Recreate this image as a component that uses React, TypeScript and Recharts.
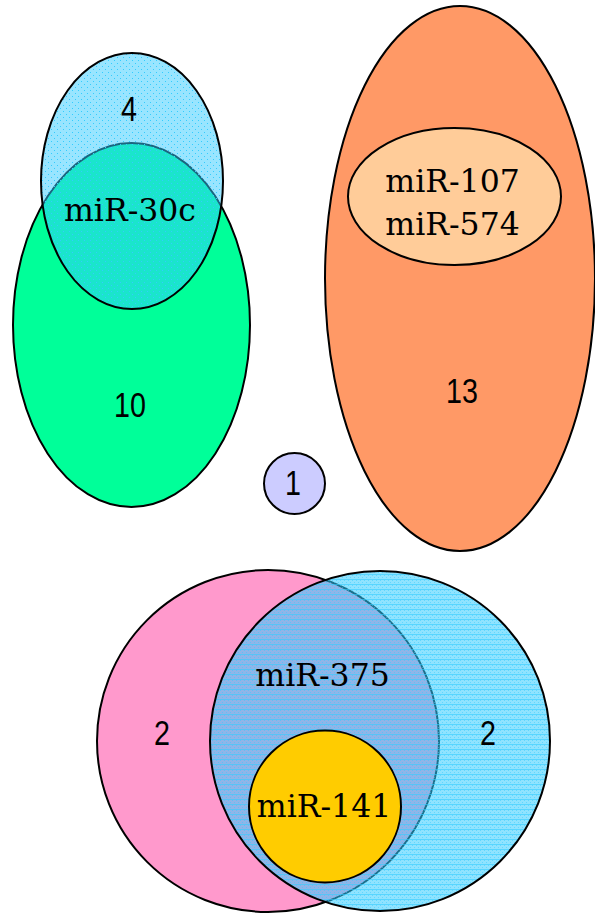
import React from 'react';
import { ScatterChart, Scatter, XAxis, YAxis } from 'recharts';

const W = 595;
const H = 915;
const X_DOMAIN: [number, number] = [0, 595];
const Y_DOMAIN: [number, number] = [0, 915];
// units -> pixels (axes are hidden and margins are zero)
const KX = W / (X_DOMAIN[1] - X_DOMAIN[0]);
const KY = H / (Y_DOMAIN[1] - Y_DOMAIN[0]);

// sets, drawn in this order
const setNames = ['green', 'blueTop', 'orange', 'peach', 'lavender', 'pink', 'blueBottom', 'yellow'];
const setCx = [131.5, 132, 460, 454.5, 294.5, 268, 380, 325];
const setCy = [325, 181, 278.5, 196.5, 483.5, 741, 741, 806.5];
const setRx = [118.5, 91, 135, 106.5, 30.5, 171, 170, 76];
const setRy = [182, 128, 272.5, 68.5, 30.5, 171, 170, 76];

// region labels (y is the text baseline)
const labelTexts = ['4', 'miR-30c', '10', 'miR-107', 'miR-574', '13', '1', 'miR-375', '2', '2', 'miR-141'];
const labelX = [129, 130, 130, 452.5, 452.5, 462, 293, 322.5, 162, 488, 324];
const labelY = [121, 221, 417, 192, 235, 403, 495, 686, 745, 745, 817];

const setFill: Record<string, string> = {
  green: '#00FF99',
  blueTop: 'url(#dotBlue)',
  orange: '#FF9966',
  peach: '#FFCC99',
  lavender: '#CCCCFF',
  pink: '#FF99CC',
  blueBottom: 'url(#lineBlue)',
  yellow: '#FFCC00',
};

const setData = setNames.map((name, i) => ({ name, x: setCx[i], y: setCy[i], rx: setRx[i], ry: setRy[i] }));
const labelData = labelTexts.map((text, i) => ({ text, x: labelX[i], y: labelY[i] }));

const SetShape = (props: any) => {
  const { cx, cy, payload } = props;
  return (
    <ellipse
      cx={cx}
      cy={cy}
      rx={payload.rx * KX}
      ry={payload.ry * KY}
      fill={setFill[payload.name]}
      stroke="#000"
      strokeWidth={2}
    />
  );
};

const LabelShape = (props: any) => {
  const { cx, cy, payload } = props;
  const isMir = payload.text.startsWith('miR');
  if (isMir) {
    return (
      <text x={cx} y={cy} textAnchor="middle" fontFamily="'DejaVu Serif', serif" fontSize={31.5} fill="#000">
        {payload.text}
      </text>
    );
  }
  // narrow sans for the counts
  return (
    <text
      transform={`translate(${cx},${cy}) scale(0.82,1)`}
      textAnchor="middle"
      fontFamily="'Liberation Sans', Arial, sans-serif"
      fontSize={35}
      fill="#000"
    >
      {payload.text}
    </text>
  );
};

export default function App() {
  return (
    <div style={{ width: W, height: H, background: '#fff' }}>
      <style>{'body{margin:0}'}</style>
      <ScatterChart width={W} height={H} margin={{ top: 0, right: 0, bottom: 0, left: 0 }}>
        <defs>
          <pattern id="dotBlue" width="6" height="6" patternUnits="userSpaceOnUse">
            <rect width="6" height="6" fill="#33CCFF" fillOpacity={0.5} />
            <rect x="0" y="0" width="1" height="1" fill="#33CCFF" />
            <rect x="3" y="3" width="1" height="1" fill="#33CCFF" />
          </pattern>
          <pattern id="lineBlue" width="4" height="5" patternUnits="userSpaceOnUse">
            <rect width="4" height="5" fill="#33CCFF" fillOpacity={0.55} />
            <rect x="0" y="0" width="1" height="1" fill="#33CCFF" fillOpacity={0.5} />
            <rect x="2" y="2" width="1" height="1" fill="#33CCFF" fillOpacity={0.5} />
            <rect x="0" y="4" width="4" height="1" fill="#33CCFF" fillOpacity={0.6} />
          </pattern>
        </defs>
        <XAxis type="number" dataKey="x" domain={X_DOMAIN} hide />
        <YAxis type="number" dataKey="y" domain={Y_DOMAIN} reversed hide />
        <Scatter data={setData} shape={SetShape} isAnimationActive={false} />
        <Scatter data={labelData} shape={LabelShape} isAnimationActive={false} />
      </ScatterChart>
    </div>
  );
}
